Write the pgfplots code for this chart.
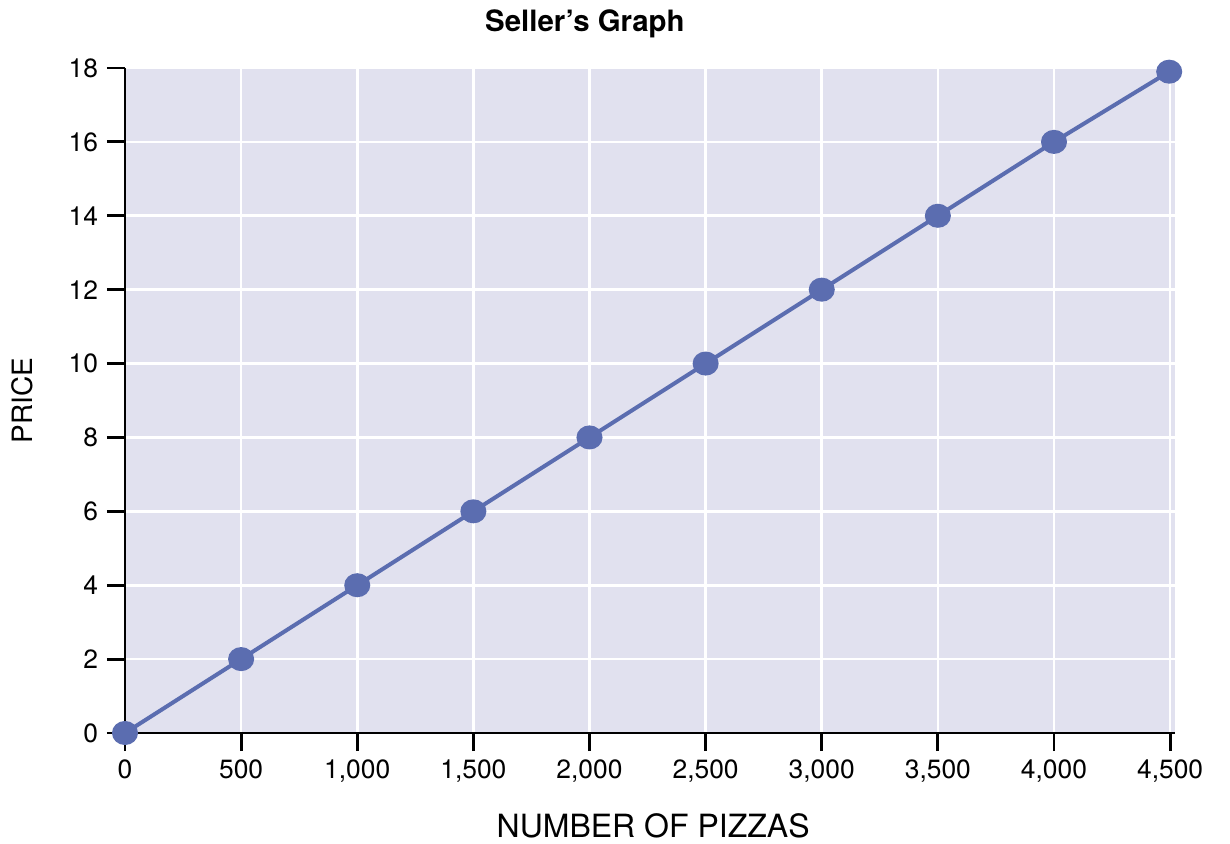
\documentclass[border=0pt]{standalone}
\usepackage{fontspec}
\setmainfont{TeX Gyre Heros}
\usepackage{pgfplots}
\pgfplotsset{compat=1.18}
\definecolor{bgc}{HTML}{E1E1EF}
\definecolor{linec}{HTML}{5B6DB0}
\begin{document}
\begin{tikzpicture}
\begin{axis}[
  scale only axis,
  width=525pt, height=332.5pt,
  xmin=0, xmax=4521, ymin=0, ymax=18,
  axis lines*=left,
  axis line style={black, line width=1.4pt},
  axis background/.style={fill=bgc},
  xtick={0,500,...,4500}, ytick={0,2,...,18},
  tick align=outside, tick style={black, line width=1.4pt},
  major tick length=9pt,
  grid=major, grid style={white, line width=1.3pt},
  /pgf/number format/assume math mode=true,
  /pgf/number format/1000 sep={,},
  scaled x ticks=false,
  tick label style={font=\fontsize{13.2}{15}\selectfont},
  xticklabel style={yshift=-1pt},
  yticklabel style={xshift=-1pt},
  xlabel={NUMBER OF PIZZAS}, ylabel={PRICE},
  xlabel style={font=\fontsize{16}{18}\selectfont, at={(axis description cs:0.503,0)}, anchor=base, yshift=-52pt},
  ylabel style={font=\fontsize{14}{16}\selectfont, at={([xshift=-46pt]axis description cs:0,0.5)}, anchor=base},
  title={\textbf{Seller’s Graph}},
  title style={font=\fontsize{14.7}{16}\selectfont, at={(axis description cs:0.438,1)}, anchor=base, yshift=12pt},
  clip=false,
]
\addplot[linec, line width=2pt, mark=*, mark size=5pt, mark options={fill=linec, draw=linec, xscale=1.1}]
  coordinates {(0,0) (500,2) (1000,4) (1500,6) (2000,8) (2500,10) (3000,12) (3500,14) (4000,16) (4496,17.9)};
\coordinate (ax0) at (rel axis cs:0,0);
\end{axis}
\pgfresetboundingbox
\path (ax0) ++(-62.5pt,-55.5pt) rectangle ++(615pt,422pt);
\end{tikzpicture}
\end{document}
